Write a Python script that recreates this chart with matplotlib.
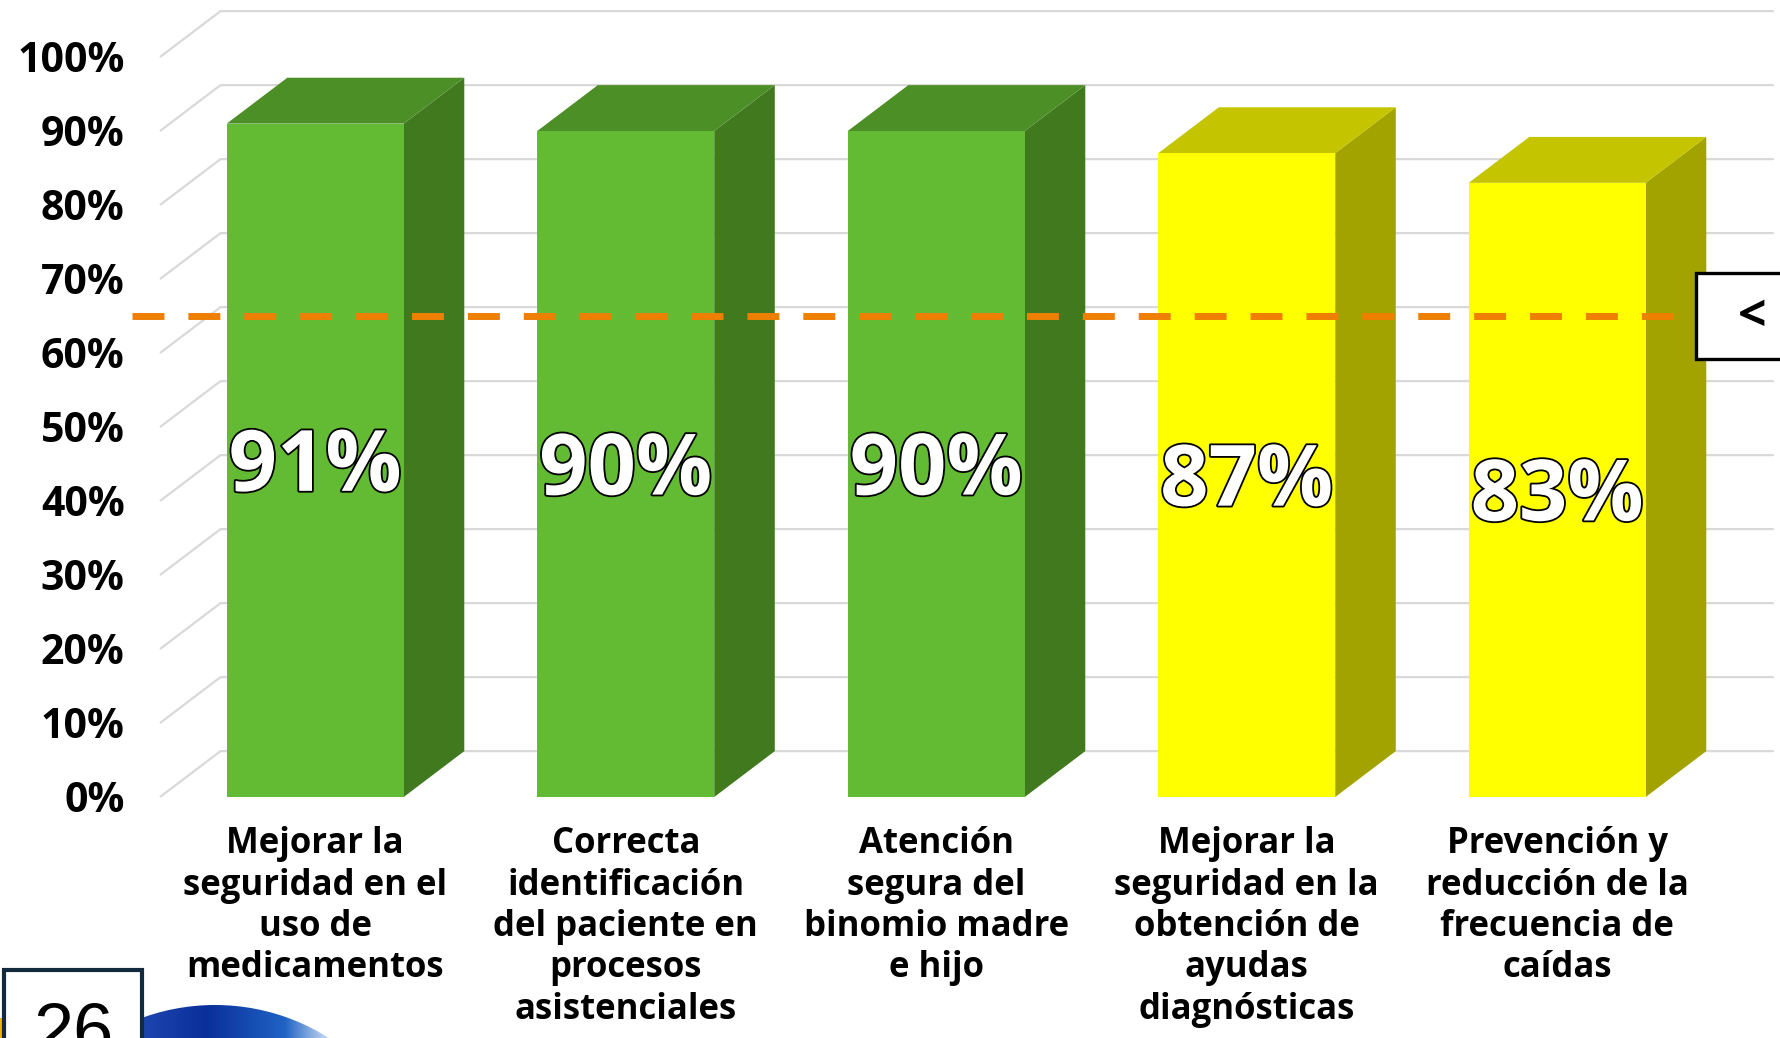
import matplotlib
matplotlib.use("Agg")
import matplotlib.pyplot as plt
from matplotlib.patches import Polygon, Rectangle, Ellipse
from matplotlib.colors import LinearSegmentedColormap
import matplotlib.patheffects as pe
import numpy as np

# ---------------- data ----------------
categories = [
    "Mejorar la\nseguridad en el\nuso de\nmedicamentos",
    "Correcta\nidentificación\ndel paciente en\nprocesos\nasistenciales",
    "Atención\nsegura del\nbinomio madre\ne hijo",
    "Mejorar la\nseguridad en la\nobtención de\nayudas\ndiagnósticas",
    "Prevención y\nreducción de la\nfrecuencia de\ncaídas",
]
values = [91, 90, 90, 87, 83]
value_labels = ["91%", "90%", "90%", "87%", "83%"]
bar_groups = ["green", "green", "green", "yellow", "yellow"]
threshold = 65
threshold_label = "<"
yticks = [0, 10, 20, 30, 40, 50, 60, 70, 80, 90, 100]
ytick_labels = ["0%", "10%", "20%", "30%", "40%", "50%", "60%", "70%", "80%", "90%", "100%"]
page_number = "26"

# ---------------- styles ----------------
front_col = {"green": "#62BB33", "yellow": "#FFFF00"}
top_col = {"green": "#4C8F27", "yellow": "#C4C400"}
side_col = {"green": "#41791F", "yellow": "#A3A300"}
grid_col = "#D9D9D9"
FONT = "Open Sans"

W, H = 1780, 1038
fig = plt.figure(figsize=(W / 100, H / 100), dpi=100)
fig.patch.set_facecolor("white")

# main axes (front plane): left edge at 160px, 0% at 797px
px_per_cat = 310.5
px_per_pct = 7.4
ax_left_px, ax_bottom_px = 160, 797
ax = fig.add_axes([ax_left_px / W, (H - ax_bottom_px) / H,
                   (W - ax_left_px) / W, ax_bottom_px / H])
ax.set_xlim(-0.5, -0.5 + (W - ax_left_px) / px_per_cat)
ax.set_ylim(0, ax_bottom_px / px_per_pct)
ax.set_facecolor("none")
for s in ax.spines.values():
    s.set_visible(False)

dx = 0.195    # depth offset (category units)
dy = 6.2      # depth offset (percent units)
bw = 0.57     # bar front width
x_right = ax.get_xlim()[1] - 0.02

# wall gridlines
for t in yticks:
    ax.plot([-0.5, -0.5 + dx, x_right], [t, t + dy, t + dy],
            color=grid_col, lw=1.6, zorder=0, clip_on=False,
            solid_capstyle="butt")

# 3D bars
for i, (v, g) in enumerate(zip(values, bar_groups)):
    l, r = i - bw / 2, i + bw / 2
    side = Polygon([(r, 0), (r + dx, dy), (r + dx, v + dy), (r, v)],
                   closed=True, fc=side_col[g], ec="none", zorder=2)
    top = Polygon([(l, v), (r, v), (r + dx, v + dy), (l + dx, v + dy)],
                  closed=True, fc=top_col[g], ec="none", zorder=2)
    front = Rectangle((l, 0), bw, v, fc=front_col[g], ec="none", zorder=3)
    for p in (side, top, front):
        ax.add_patch(p)
    ax.annotate(value_labels[i], (i, v / 2), xytext=(0, -22),
                textcoords="offset points", ha="center", va="baseline",
                fontsize=61, fontweight="bold", family=FONT, color="white",
                zorder=6,
                path_effects=[pe.withStroke(linewidth=2.6, foreground="black")])

# threshold dashed line
ln = ax.axhline(threshold, xmin=(132 - ax_left_px) / (W - ax_left_px),
                xmax=(1676 - ax_left_px) / (W - ax_left_px),
                color="#EE7F00", lw=5, zorder=5, clip_on=False)
ln.set_dashes((4.6, 3.45))
ln.set_dash_capstyle("butt")

# ticks
ax.set_yticks(yticks, ytick_labels)
ax.tick_params(axis="y", length=0, pad=25.5)
for lab in ax.get_yticklabels():
    lab.set_fontsize(29.5)
    lab.set_fontweight("bold")
    lab.set_family(FONT)
ax.set_xticks(range(len(categories)), categories)
ax.tick_params(axis="x", length=0, pad=21)
for lab in ax.get_xticklabels():
    lab.set_fontsize(25)
    lab.set_fontweight("bold")
    lab.set_family(FONT)
    lab.set_linespacing(1.2)

# ---------------- decorations (pixel space overlay) ----------------
deco = fig.add_axes([0, 0, 1, 1], zorder=10)
deco.set_xlim(0, W)
deco.set_ylim(H, 0)
deco.axis("off")
deco.set_facecolor("none")

# threshold label box
deco.add_patch(Rectangle((1696, 273), 200, 86, fc="white", ec="black",
                         lw=2.4, zorder=1, clip_on=False))
deco.text(1752, 318, threshold_label, ha="center", va="center",
          fontsize=36, fontweight="bold", family=FONT, zorder=2)

# blue gradient shape
ell = Ellipse((215, 1205), 414, 400, fc="none", ec="none")
deco.add_patch(ell)
cmap = LinearSegmentedColormap.from_list(
    "blu", [(0, "#2a52bb"), (0.45, "#0a2f9a"), (0.8, "#1f63c5"), (1.0, "#cfe0f5")])
grad = np.linspace(0, 1, 256)[None, :]
im = deco.imshow(grad, cmap=cmap, extent=(105, 330, 1038, 1000),
                 aspect="auto", zorder=0.5)
im.set_clip_path(ell)

# yellow sliver
deco.add_patch(Rectangle((0, 1018), 3, 30, fc="#F2B600", ec="none", zorder=0.6))

# page number box
deco.add_patch(Rectangle((4, 970), 138, 100, fc="white", ec="#13293D",
                         lw=3, zorder=1, clip_on=True))
deco.text(33, 1054, page_number, ha="left", va="baseline", fontsize=52,
          family="Liberation Sans", color="black", zorder=2)

fig.savefig("out.png", dpi=100, facecolor="white")
